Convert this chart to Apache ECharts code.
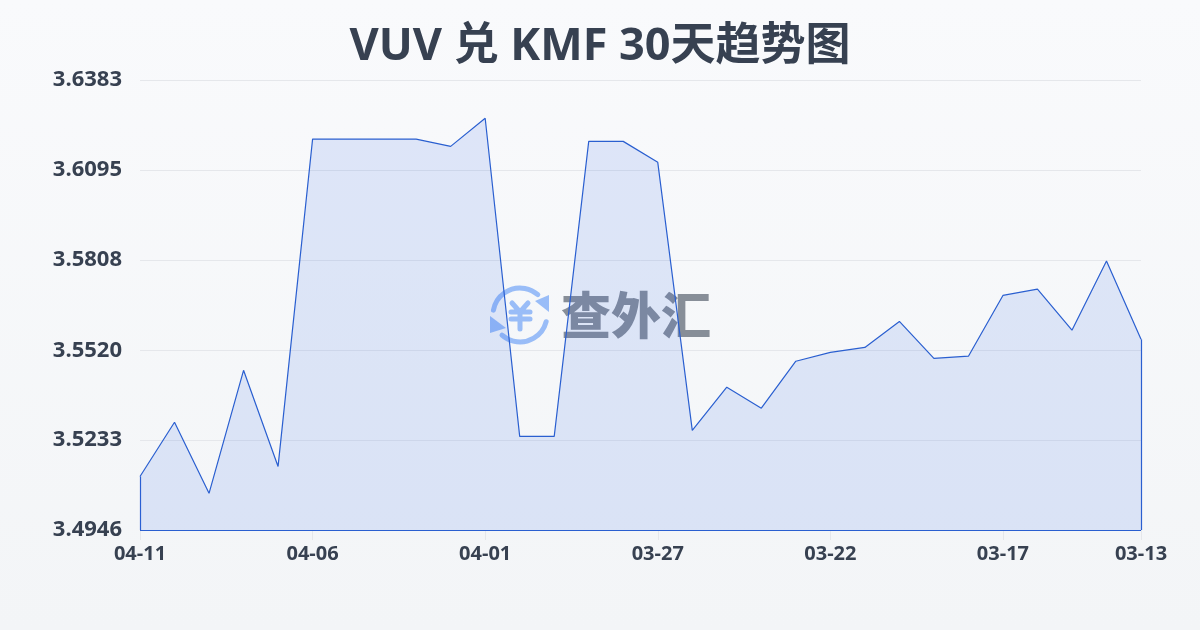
<!DOCTYPE html>
<html><head><meta charset="utf-8">
<style>html,body{margin:0;padding:0;background:#f5f7fa}#c{width:1200px;height:630px}</style>
<script src="https://cdn.jsdelivr.net/npm/echarts@6/dist/echarts.min.js"></script>
</head><body><div id="c"></div>
<script>
const titleText = 'VUV 兑 KMF 30天趋势图';
const categories = ['04-11','04-10','04-09','04-08','04-07','04-06','04-05','04-04','04-03','04-02','04-01','03-31','03-30','03-29','03-28','03-27','03-26','03-25','03-24','03-23','03-22','03-21','03-20','03-19','03-18','03-17','03-16','03-15','03-14','03-13'];
const rates = [3.5117,3.5290,3.5063,3.5456,3.5149,3.6194,3.6194,3.6194,3.6194,3.6171,3.6261,3.5245,3.5245,3.6187,3.6187,3.6120,3.5264,3.5402,3.5335,3.5485,3.5513,3.5529,3.5612,3.5494,3.5501,3.5695,3.5715,3.5584,3.5805,3.5555];
const yTicks = [3.4946,3.5233,3.5520,3.5808,3.6095,3.6383];
const lineColor = '#2a5fd0';
const logoBlue = 'rgba(59,130,246,0.5)';
const markGray = 'rgba(55,65,81,0.58)';
const font = '"Open Sans","Noto Sans CJK SC",sans-serif';
const last = categories.length - 1;
const edge = (a,b,c,d)=>[{coord:[a,b]},{coord:[c,d]}];
const stroke = {stroke:logoBlue,fill:null,lineWidth:5,lineCap:'round',lineJoin:'round'};
const chart = echarts.init(document.getElementById('c'),null,{renderer:'canvas'});
chart.setOption({
  animation:false,
  backgroundColor:{type:'linear',x:0,y:0,x2:0,y2:1,colorStops:[{offset:0,color:'#f9fafc'},{offset:1,color:'#f3f5f7'}]},
  title:{text:titleText,left:'center',top:20,textStyle:{fontFamily:font,fontSize:45,fontWeight:'bold',color:'#374151'}},
  grid:{left:140,right:59,top:80,bottom:100,containLabel:false},
  xAxis:{type:'category',boundaryGap:false,data:categories,
    axisLine:{show:false},
    axisTick:{show:true,interval:4,length:10,lineStyle:{color:'#e5e7eb',width:1}},
    axisLabel:{interval:4,margin:14,fontSize:20,fontWeight:'bold',color:'#374151',fontFamily:font,hideOverlap:false,showMaxLabel:true},
    splitLine:{show:false}},
  yAxis:{type:'value',min:yTicks[0],max:yTicks[yTicks.length-1],
    axisLine:{show:false},axisTick:{show:false,customValues:yTicks},
    axisLabel:{customValues:yTicks,margin:18,fontSize:22,fontWeight:'bold',color:'#374151',fontFamily:font,formatter:v=>Number(v).toFixed(4)},
    splitLine:{show:true,lineStyle:{color:'#e5e7eb',width:1}}},
  graphic:[
    {type:'group',z:100,silent:true,children:[
      {type:'arc',shape:{cx:520,cy:315,r:27,startAngle:-2.96,endAngle:-0.85},style:stroke},
      {type:'arc',shape:{cx:520,cy:315,r:27,startAngle:0.25,endAngle:2.3},style:stroke},
      {type:'polygon',shape:{points:[[535,301],[549,295],[549,312]]},style:{fill:logoBlue}},
      {type:'polygon',shape:{points:[[490,316],[490,333],[506,328]]},style:{fill:logoBlue}},
      {type:'polyline',shape:{points:[[512,303],[520,312],[528,303],[520,312],[511,312],[530,312],[520,312],[520,319],[511,319],[530,319],[520,319],[520,329]]},style:stroke},
      {type:'text',style:{x:636,y:315,text:'查外汇',align:'center',verticalAlign:'middle',font:'900 50px "Noto Sans CJK SC",sans-serif',fill:markGray}}
    ]}
  ],
  series:[{type:'line',data:rates,symbol:'none',smooth:false,z:5,
    lineStyle:{color:lineColor,width:1.2},
    areaStyle:{color:'rgba(37,99,235,0.18)',origin:'start'},
    markLine:{silent:true,symbol:'none',label:{show:false},animation:false,
      lineStyle:{color:lineColor,width:1.2,type:'solid'},
      data:[edge(0,yTicks[0],0,rates[0]),edge(0,yTicks[0],last,yTicks[0]),edge(last,yTicks[0],last,rates[last])]}
  }]
});
</script></body></html>
